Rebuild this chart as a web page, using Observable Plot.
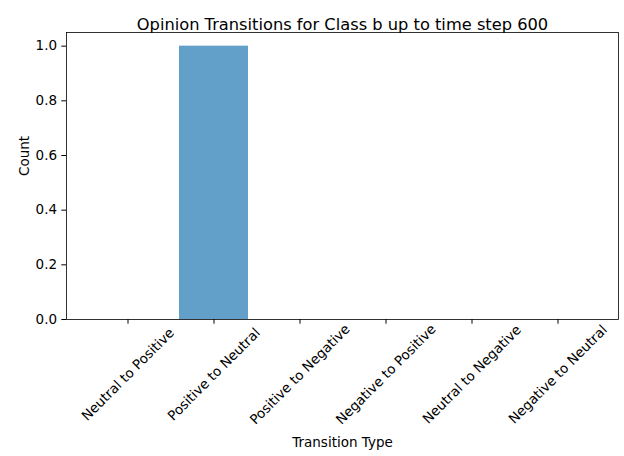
<!DOCTYPE html>
<html>
<head>
<meta charset="utf-8">
<script src="https://cdn.jsdelivr.net/npm/d3@7"></script>
<script src="https://cdn.jsdelivr.net/npm/@observablehq/plot@0.6"></script>
<style>
  html, body { margin: 0; padding: 0; background: white; }
</style>
</head>
<body>
<div id="chart"></div>
<script>
const categories = ["Neutral to Positive", "Positive to Neutral", "Positive to Negative", "Negative to Positive", "Neutral to Negative", "Negative to Neutral"];
const counts = [0, 1, 0, 0, 0, 0];
const yTicks = [0, 0.2, 0.4, 0.6, 0.8, 1.0];
const title = "Opinion Transitions for Class b up to time step 600";
const xLabel = "Transition Type";
const yLabel = "Count";

const data = categories.map((c, i) => ({cat: c, count: counts[i]}));

const chart = Plot.plot({
  width: 624,
  height: 456,
  marginTop: 32,
  marginBottom: 137,
  marginLeft: 66,
  marginRight: 6,
  style: {fontFamily: "DejaVu Sans", fontSize: "13.5px", color: "black", background: "white"},
  x: {domain: categories, paddingInner: 0.2, paddingOuter: 0.29, axis: null},
  y: {domain: [0, 1.05], axis: null},
  marks: [
    Plot.barY(data, {x: "cat", y: "count", fill: "#1f77b4", fillOpacity: 0.7}),
    Plot.frame({stroke: "black", strokeWidth: 0.8}),
    Plot.axisY({ticks: yTicks, tickFormat: ".1f", tickSize: 4.7, tickPadding: 4.7, label: null, fontSize: 13.5}),
    Plot.axisX({tickSize: 4.7, tickFormat: () => "", label: null}),
    Plot.text(categories, {x: d => d, frameAnchor: "bottom", rotate: -45, textAnchor: "middle", lineAnchor: "middle", dy: 55, fontSize: 13.5}),
    Plot.text([xLabel], {frameAnchor: "bottom", dy: 127, fontSize: 13.5}),
    Plot.text([yLabel], {frameAnchor: "left", dx: -42, rotate: -90, fontSize: 13.5}),
    Plot.text([title], {frameAnchor: "top", dy: -14, fontSize: 16.25})
  ]
});
document.getElementById("chart").appendChild(chart);
</script>
</body>
</html>
